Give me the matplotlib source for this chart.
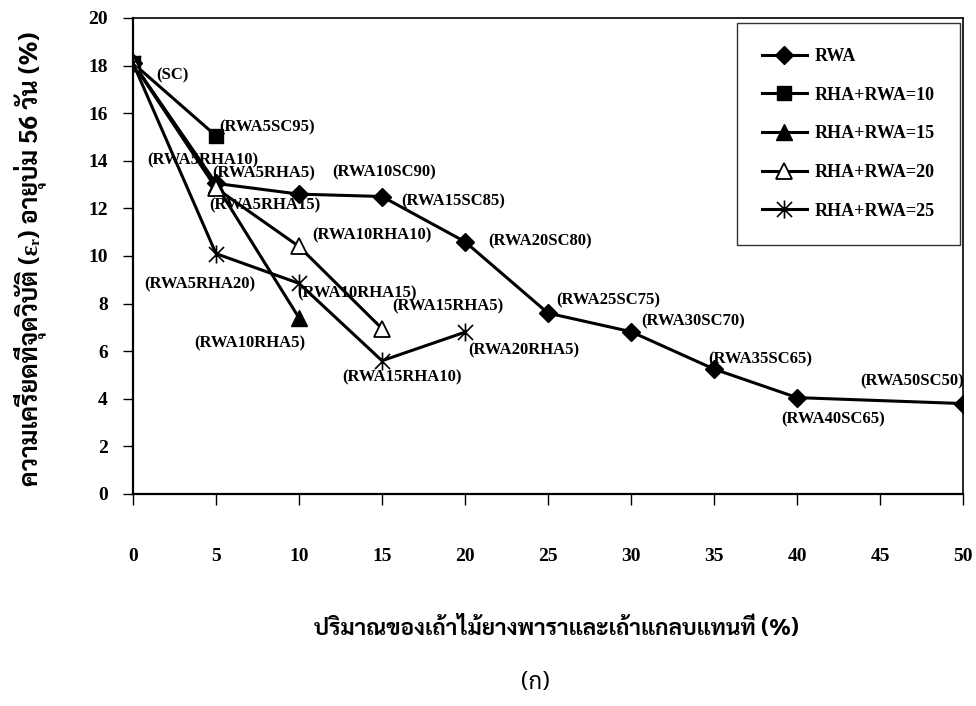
import matplotlib
matplotlib.use("Agg")
import matplotlib.pyplot as plt
from matplotlib.path import Path

# ---- data -------------------------------------------------------------
x_ticks = [0, 5, 10, 15, 20, 25, 30, 35, 40, 45, 50]
y_ticks = [0, 2, 4, 6, 8, 10, 12, 14, 16, 18, 20]

rwa_x = [0, 5, 10, 15, 20, 25, 30, 35, 40, 50]
rwa_y = [18.1, 13.05, 12.6, 12.5, 10.6, 7.6, 6.82, 5.25, 4.05, 3.8]

rha10_x = [0, 5]
rha10_y = [18.1, 15.05]

rha15_x = [0, 5, 10]
rha15_y = [18.1, 13.0, 7.4]

rha20_x = [0, 5, 10, 15]
rha20_y = [18.1, 12.85, 10.4, 6.95]

rha25_x = [0, 5, 10, 15, 20]
rha25_y = [18.1, 10.1, 8.85, 5.6, 6.8]

series_names = ["RWA", "RHA+RWA=10", "RHA+RWA=15", "RHA+RWA=20", "RHA+RWA=25"]

point_labels = [
    "(SC)", "(RWA5SC95)", "(RWA5RHA10)", "(RWA5RHA5)", "(RWA10SC90)",
    "(RWA5RHA15)", "(RWA15SC85)", "(RWA10RHA10)", "(RWA20SC80)",
    "(RWA5RHA20)", "(RWA10RHA15)", "(RWA15RHA5)", "(RWA10RHA5)",
    "(RWA20RHA5)", "(RWA15RHA10)", "(RWA25SC75)", "(RWA30SC70)",
    "(RWA35SC65)", "(RWA40SC65)", "(RWA50SC50)",
]

x_label = "ปริมาณของเถ้าไม้ยางพาราและเถ้าแกลบแทนที่ (%)"
y_label = "ความเครียดที่จุดวิบัติ (εᵣ) อายุบ่ม 56 วัน (%)"
panel_label = "(ก)"

# ---- fonts ------------------------------------------------------------
serif = "Liberation Serif"
thai_family = ["Sarabun", serif, "DejaVu Sans"]
plt.rcParams["font.family"] = [serif, "DejaVu Serif"]

# ---- figure -----------------------------------------------------------
fig = plt.figure(figsize=(9.76, 7.06), dpi=100)
ax = fig.add_axes([133 / 976, 1 - 494 / 706, 830 / 976, 476 / 706])

asterisk = Path(
    [(-1, -1), (1, 1), (-1, 1), (1, -1), (0, -1.2), (0, 1.2)],
    [Path.MOVETO, Path.LINETO, Path.MOVETO, Path.LINETO, Path.MOVETO, Path.LINETO],
)

lw = 2.2
series = [
    (rwa_x, rwa_y, dict(marker="D", ms=9, mfc="black", mec="black")),
    (rha10_x, rha10_y, dict(marker="s", ms=10, mfc="black", mec="black")),
    (rha15_x, rha15_y, dict(marker="^", ms=11, mfc="black", mec="black")),
    (rha20_x, rha20_y, dict(marker="^", ms=11, mfc="white", mec="black", mew=1.3)),
    (rha25_x, rha25_y, dict(marker=asterisk, ms=13, mfc="none", mec="black", mew=1.2)),
]
lines = {}
for name, (xs, ys, style) in zip(series_names, series):
    ax.plot(xs, ys, color="black", lw=lw, label=name, zorder=3, **style)
    lines[name] = (xs, ys)

# label anchors: (series, point index, dx px, dy px)
label_layout = [
    ("RWA", 0, 39, -12), ("RHA+RWA=10", 1, 51, 8), ("RHA+RWA=15", 1, -13, 24),
    ("RWA", 1, 48, 10), ("RWA", 2, 85, 22), ("RHA+RWA=20", 1, 49, -17),
    ("RWA", 3, 71, -5), ("RHA+RWA=20", 2, 73, 11), ("RWA", 4, 75, 0),
    ("RHA+RWA=25", 1, -16, -31), ("RHA+RWA=25", 2, 58, -10),
    ("RHA+RWA=20", 3, 66, 22), ("RHA+RWA=15", 2, -49, -26),
    ("RHA+RWA=25", 4, 59, -18), ("RHA+RWA=25", 3, 20, -17),
    ("RWA", 5, 60, 13), ("RWA", 6, 62, 10), ("RWA", 7, 46, 10),
    ("RWA", 8, 36, -22), ("RWA", 9, -51, 22),
]
for text, (sname, idx, dx, dy) in zip(point_labels, label_layout):
    xs, ys = lines[sname]
    ax.annotate(text, xy=(xs[idx], ys[idx]), xytext=(dx, dy),
                textcoords="offset pixels", ha="center", va="center",
                fontsize=12, fontweight="bold", zorder=4)

ax.set_xlim(0, 50)
ax.set_ylim(0, 20)
ax.set_xticks(x_ticks)
ax.set_yticks(y_ticks)
ax.tick_params(axis="x", direction="out", length=8, width=1, pad=31,
               labelsize=14)
ax.tick_params(axis="y", direction="out", length=7, width=1, pad=11,
               labelsize=14)
for lab in ax.get_xticklabels() + ax.get_yticklabels():
    lab.set_fontweight("bold")
for side in ["left", "bottom"]:
    ax.spines[side].set_linewidth(1.6)
for side in ["top", "right"]:
    ax.spines[side].set_linewidth(1.2)

leg = ax.legend(loc="upper right", bbox_to_anchor=(0.996, 0.99),
                prop=dict(weight="bold", size=13),
                frameon=True, fancybox=False, edgecolor="black",
                handlelength=2.5, handletextpad=0.4, labelspacing=1.2,
                borderpad=1.4, borderaxespad=0)
leg.get_frame().set_linewidth(1.0)

fig.text(30 / 976, 1 - 259 / 706, y_label, rotation=90, ha="center",
         va="center", fontsize=18, fontweight="bold", family=thai_family)
fig.text(556 / 976, 1 - 628 / 706, x_label, ha="center", va="center",
         fontsize=16.3, fontweight="bold", family=thai_family)
fig.text(535 / 976, 1 - 683 / 706, panel_label, ha="center", va="center",
         fontsize=17, family=thai_family)

fig.savefig("out.png", dpi=100)
